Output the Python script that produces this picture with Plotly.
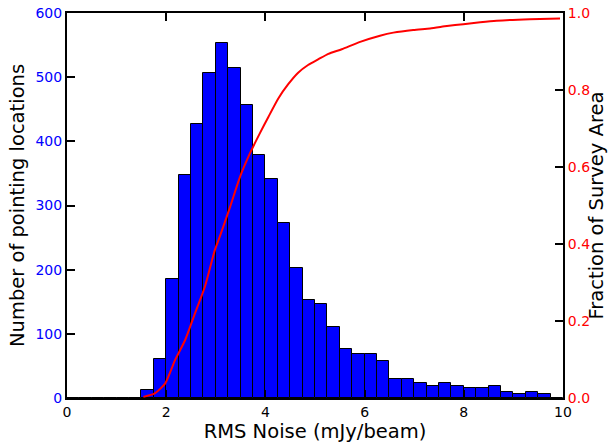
import plotly.graph_objects as go

# Histogram: bin left edges (mJy/beam) and counts
bin_left = [0.0, 0.25, 0.5, 0.75, 1.0, 1.25, 1.5, 1.75, 2.0, 2.25, 2.5, 2.75,
            3.0, 3.25, 3.5, 3.75, 4.0, 4.25, 4.5, 4.75, 5.0, 5.25, 5.5, 5.75,
            6.0, 6.25, 6.5, 6.75, 7.0, 7.25, 7.5, 7.75, 8.0, 8.25, 8.5, 8.75,
            9.0, 9.25, 9.5, 9.75]
bin_width = 0.25
counts = [0, 0, 0, 0, 0, 0, 12, 61, 185, 347, 427, 507,
          553, 514, 456, 379, 341, 273, 203, 153, 146, 110, 77, 68,
          69, 58, 30, 29, 24, 19, 23, 19, 15, 15, 19, 10,
          7, 10, 7, 0]

# Cumulative fraction of survey area
cdf_x = [1.54, 1.77, 1.98, 2.18, 2.38, 2.58, 2.78, 2.98, 3.08, 3.29, 3.49,
         3.69, 3.89, 4.06, 4.26, 4.46, 4.66, 4.86, 5.07, 5.27, 5.54, 5.91,
         6.31, 6.58, 6.98, 7.32, 7.66, 7.99, 8.33, 8.66, 9.33, 9.94]
cdf_y = [0.003, 0.012, 0.038, 0.099, 0.150, 0.220, 0.289, 0.384, 0.419, 0.497,
         0.575, 0.636, 0.688, 0.730, 0.778, 0.815, 0.845, 0.865, 0.880, 0.894,
         0.906, 0.925, 0.941, 0.949, 0.956, 0.960, 0.966, 0.971, 0.976, 0.980,
         0.984, 0.986]

FONT = "DejaVu Sans"

fig = go.Figure()
fig.add_trace(go.Bar(
    x=bin_left, y=counts, width=bin_width, offset=0,
    marker=dict(color="#0000ff", line=dict(color="black", width=1)),
    showlegend=False, yaxis="y"))
fig.add_trace(go.Scatter(
    x=cdf_x, y=cdf_y, mode="lines",
    line=dict(color="#ff0000", width=2, shape="spline", smoothing=0.6),
    showlegend=False, yaxis="y2"))

fig.update_layout(
    width=608, height=443,
    margin=dict(l=67, r=45, t=13, b=45),
    paper_bgcolor="white", plot_bgcolor="white",
    font=dict(family=FONT, size=14, color="black"),
    bargap=0,
    xaxis=dict(
        range=[0, 10], tick0=0, dtick=2, showgrid=False, zeroline=False,
        automargin=False, ticklabeloverflow="allow",
        showline=True, linecolor="black", linewidth=2, mirror="ticks",
        ticks="inside", ticklen=8, tickwidth=1.5, tickcolor="black",
        tickfont=dict(family=FONT, size=14, color="black"),
        title=dict(text="RMS Noise (mJy/beam)", font=dict(family=FONT, size=19.5), standoff=5),
    ),
    yaxis=dict(
        range=[0, 600], tick0=0, dtick=100, showgrid=False, zeroline=False,
        automargin=False, ticklabeloverflow="allow",
        showline=True, linecolor="black", linewidth=2,
        ticks="inside", ticklen=8, tickwidth=1.5, tickcolor="black",
        tickfont=dict(family=FONT, size=14, color="#0000ff"),
        title=dict(text="Number of pointing locations", font=dict(family=FONT, size=19.5), standoff=6),
    ),
    yaxis2=dict(
        range=[0, 1], tick0=0, dtick=0.2, tickformat=".1f", overlaying="y", side="right",
        showgrid=False, zeroline=False, automargin=False, ticklabeloverflow="allow",
        showline=True, linecolor="black", linewidth=2,
        ticks="inside", ticklen=8, tickwidth=1.5, tickcolor="black",
        tickfont=dict(family=FONT, size=14, color="#ff0000"),
        title=dict(text="Fraction of Survey Area", font=dict(family=FONT, size=19.5), standoff=4),
    ),
)

# remove the browser's default 8px body margin so the figure fills the window exactly
fig.write_html("out.html", config={"displayModeBar": False},
               post_script="document.body.style.margin='0';")
